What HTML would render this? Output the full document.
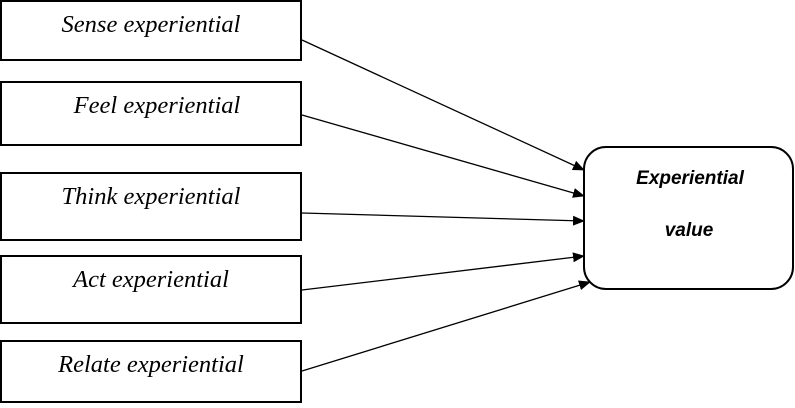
<!DOCTYPE html>
<html><head><style>body{margin:0;background:#fff}</style></head><body>
<svg width="795" height="403" xmlns="http://www.w3.org/2000/svg">
<defs><marker id="a" markerWidth="12" markerHeight="10" refX="11" refY="5" orient="auto" markerUnits="userSpaceOnUse"><path d="M0,0 L12,5 L0,10 z" fill="#000"/></marker></defs>
<g fill="none" stroke="#000" stroke-width="2">
<rect x="1" y="1" width="300" height="59"/>
<rect x="1" y="82" width="300" height="63"/>
<rect x="1" y="173" width="300" height="67"/>
<rect x="1" y="256" width="300" height="67"/>
<rect x="1" y="341" width="300" height="61"/>
<rect x="584" y="147" width="209" height="142" rx="22"/>
</g>
<g stroke="#000" stroke-width="1.3" marker-end="url(#a)">
<line x1="302" y1="40" x2="584" y2="170"/>
<line x1="302" y1="115" x2="584" y2="196"/>
<line x1="302" y1="213" x2="584" y2="221"/>
<line x1="302" y1="290" x2="584" y2="256"/>
<line x1="302" y1="371" x2="590" y2="282"/>
</g>
<g font-family="Liberation Serif, serif" font-style="italic" font-size="24.5" text-anchor="middle" textLength="">
<text x="151" y="32">Sense experiential</text>
<text x="157" y="113">Feel experiential</text>
<text x="151" y="204">Think experiential</text>
<text x="151" y="287">Act experiential</text>
<text x="151" y="372">Relate experiential</text>
</g>
<g font-family="Liberation Sans, sans-serif" font-style="italic" font-weight="bold" font-size="19" text-anchor="middle">
<text x="690" y="184">Experiential</text>
<text x="689" y="236">value</text>
</g>
</svg>
</body></html>
